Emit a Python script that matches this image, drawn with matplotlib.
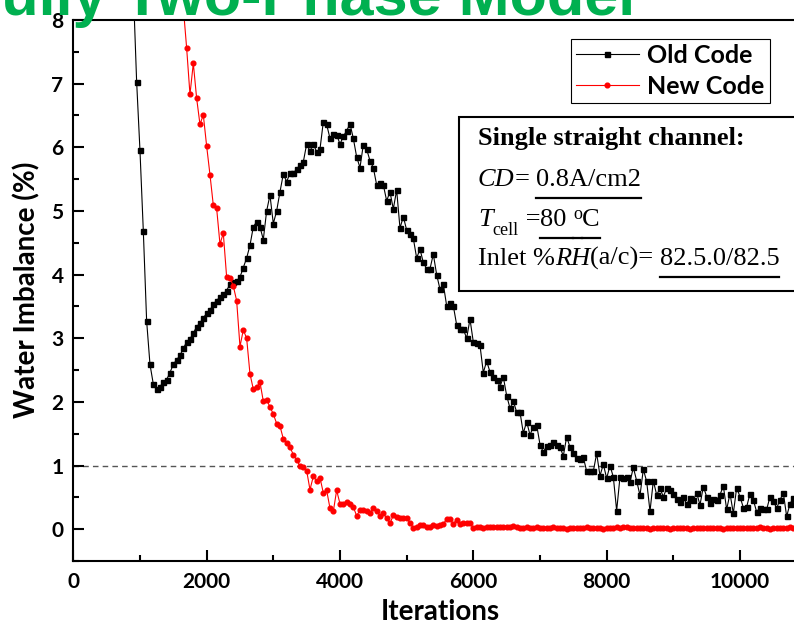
import matplotlib
matplotlib.use("Agg")
import matplotlib.pyplot as plt
from matplotlib.patches import Rectangle
from matplotlib.lines import Line2D
from matplotlib.font_manager import FontProperties
from matplotlib.ticker import MultipleLocator
import numpy as np

# ---- data ----
iters_old = np.arange(850, 10801, 50)
old_code = [
    10.0, 8.5, 7.03, 5.95, 4.69, 3.27, 2.59, 2.28, 2.20, 2.24,      # 850
    2.31, 2.35, 2.46, 2.59, 2.66, 2.73, 2.84, 2.94, 2.99, 3.08,     # 1350
    3.18, 3.24, 3.32, 3.39, 3.44, 3.54, 3.59, 3.65, 3.69, 3.75,     # 1850
    3.85, 3.88, 3.90, 3.96, 4.11, 4.26, 4.46, 4.75, 4.83, 4.75,     # 2350
    4.55, 5.00, 5.25, 4.80, 5.00, 5.30, 5.58, 5.46, 5.59, 5.59,     # 2850
    5.66, 5.72, 5.77, 6.05, 5.94, 6.05, 5.93, 5.97, 6.40, 6.36,     # 3350
    6.14, 6.21, 6.20, 6.05, 6.17, 6.26, 6.37, 6.14, 5.85, 5.68,     # 3850
    6.04, 5.97, 5.79, 5.68, 5.41, 5.44, 5.41, 5.16, 5.30, 5.03,     # 4350
    5.33, 4.73, 4.91, 4.70, 4.64, 4.57, 4.26, 4.40, 4.19, 4.09,     # 4850
    4.09, 4.32, 4.00, 3.77, 3.85, 3.51, 3.56, 3.51, 3.21, 3.14,     # 5350
    3.14, 3.00, 3.30, 2.94, 2.93, 2.89, 2.46, 2.64, 2.47, 2.39,     # 5850
    2.35, 2.24, 2.39, 2.10, 1.90, 2.01, 1.84, 1.84, 1.51, 1.69,     # 6350
    1.48, 1.61, 1.64, 1.33, 1.21, 1.31, 1.32, 1.37, 1.33, 1.29,     # 6850
    1.15, 1.45, 1.29, 1.20, 1.12, 1.10, 1.13, 0.91, 0.91, 0.91,     # 7350
    1.19, 0.84, 1.02, 0.80, 1.00, 0.82, 0.29, 0.82, 0.80, 0.82,     # 7850
    0.74, 0.97, 0.76, 0.53, 0.94, 0.75, 0.28, 0.76, 0.54, 0.64,     # 8350
    0.51, 0.64, 0.62, 0.56, 0.48, 0.43, 0.51, 0.39, 0.49, 0.46,     # 8850
    0.57, 0.38, 0.67, 0.51, 0.41, 0.48, 0.46, 0.54, 0.68, 0.31,     # 9350
    0.56, 0.25, 0.65, 0.51, 0.34, 0.35, 0.56, 0.46, 0.27, 0.34,     # 9850
    0.32, 0.31, 0.51, 0.44, 0.33, 0.46, 0.57, 0.20, 0.40, 0.49,     # 10350
]

iters_new = np.arange(1600, 10801, 50)
new_code = [
    9.0, 8.2, 7.56, 6.83, 7.32, 6.77, 6.36, 6.51, 6.02, 5.57,       # 1600
    5.09, 5.04, 4.48, 4.65, 3.96, 3.95, 3.82, 3.59, 2.87, 3.13,     # 2100
    3.00, 2.44, 2.20, 2.23, 2.31, 2.01, 2.03, 1.92, 1.81, 1.66,     # 2600
    1.62, 1.42, 1.35, 1.29, 1.17, 1.09, 0.99, 0.97, 0.92, 0.62,     # 3100
    0.83, 0.76, 0.81, 0.57, 0.61, 0.33, 0.28, 0.61, 0.40, 0.39,     # 3600
    0.43, 0.39, 0.35, 0.21, 0.30, 0.30, 0.28, 0.25, 0.33, 0.29,     # 4100
    0.21, 0.25, 0.17, 0.09, 0.22, 0.19, 0.18, 0.18, 0.17, 0.10,     # 4600
    0.02, 0.03, 0.06, 0.07, 0.03, 0.04, 0.06, 0.05, 0.07, 0.08,     # 5100
    0.16, 0.16, 0.08, 0.15, 0.08, 0.09, 0.10, 0.09, 0.02, 0.03,     # 5600
    0.03, 0.02, 0.03, 0.04, 0.03, 0.03, 0.04, 0.03, 0.04, 0.03,     # 6100
    0.05, 0.03, 0.02, 0.02, 0.03, 0.02, 0.02, 0.03, 0.02, 0.02,     # 6600
    0.02, 0.02, 0.03, 0.02, 0.02, 0.02, 0.01, 0.02, 0.02, 0.02,     # 7100
    0.02, 0.02, 0.03, 0.02, 0.02, 0.02, 0.02, 0.01, 0.02, 0.02,     # 7600
    0.02, 0.03, 0.02, 0.04, 0.03, 0.02, 0.02, 0.02, 0.02, 0.02,     # 8100
    0.02, 0.01, 0.02, 0.02, 0.02, 0.02, 0.02, 0.01, 0.02, 0.02,     # 8600
    0.02, 0.02, 0.02, 0.01, 0.02, 0.02, 0.02, 0.02, 0.02, 0.02,     # 9100
    0.02, 0.02, 0.02, 0.01, 0.02, 0.02, 0.02, 0.02, 0.02, 0.02,     # 9600
    0.02, 0.02, 0.02, 0.02, 0.03, 0.02, 0.02, 0.01, 0.02, 0.02,     # 10100
    0.02, 0.02, 0.02, 0.03, 0.02,                                   # 10600
]

series_labels = ["Old Code", "New Code"]
x_ticks = [0, 2000, 4000, 6000, 8000, 10000]
y_ticks = [0, 1, 2, 3, 4, 5, 6, 7, 8]
target_line = 1.0

plt.rcParams['font.family'] = ['Lato', 'DejaVu Sans']
plt.rcParams['font.weight'] = 'bold'

W, H = 794, 624
fig = plt.figure(figsize=(W / 100, H / 100), dpi=100)


def fx(px):
    return px / W


def fy(py):
    return 1 - py / H


ax = fig.add_axes([fx(73.3), fy(561), (800 - 73.3) / W, (561 - 20) / H])

ax.plot(iters_old, old_code, color='black', lw=0.8, marker='s', ms=3.6,
        label=series_labels[0])
ax.plot(iters_new, new_code, color='red', lw=0.8, marker='o', ms=3.4,
        mec='red', label=series_labels[1])
ax.axhline(target_line, color='#555555', lw=1.0, ls=(0, (4, 3)), zorder=1)

ax.set_xlim(0, 10900)
ax.set_ylim(-0.5, 8)
ax.set_xticks(x_ticks)
ax.set_yticks(y_ticks)
ax.xaxis.set_minor_locator(MultipleLocator(1000))
ax.yaxis.set_minor_locator(MultipleLocator(0.5))
ax.tick_params(which='major', direction='in', length=8, width=1.5,
               labelsize=15, pad=8)
ax.tick_params(which='minor', direction='in', length=4, width=1.5)
ax.tick_params(axis='y', pad=7)
for s in ['left', 'bottom', 'top']:
    ax.spines[s].set_linewidth(1.5)
ax.spines['right'].set_visible(False)

leg = ax.legend(loc='upper left', bbox_to_anchor=(fx(571), fy(39)),
                bbox_transform=fig.transFigure, frameon=True, fancybox=False,
                edgecolor='black', framealpha=1, borderpad=0.2,
                labelspacing=0.32, handlelength=2.5, handletextpad=0.35,
                borderaxespad=0,
                prop=FontProperties(family='Lato', weight='bold', size=18))
leg.get_frame().set_linewidth(0.8)

fig.text(fx(440), fy(620), 'Iterations', ha='center', va='baseline',
         fontsize=20, fontweight='bold')
fig.text(fx(27), fy(290), 'Water Imbalance (%)', rotation=90, ha='center',
         va='center', fontsize=20, fontweight='bold')

# green heading cut off at the top
fig.text(fx(-36), fy(15), 'Fully Two-Phase Model', ha='left', va='baseline',
         family='Liberation Sans', fontweight='bold', fontsize=44,
         color='#00B050', zorder=10)

# condition box
fig.add_artist(Rectangle((fx(459), fy(290.7)), (900 - 459) / W, (290.7 - 117) / H,
                         transform=fig.transFigure, facecolor='white',
                         edgecolor='black', lw=1.5, zorder=5))

renderer = fig.canvas.get_renderer()
serif = 'Liberation Serif'
rm = FontProperties(family=serif, weight='normal', size=19)
it = FontProperties(family=serif, style='italic', weight='normal', size=19)
bf = FontProperties(family=serif, weight='bold', size=19)
small = FontProperties(family=serif, weight='normal', size=13)


def text_width(s, prop):
    w1 = renderer.get_text_width_height_descent('|' + s + '|', prop, ismath=False)[0]
    w0 = renderer.get_text_width_height_descent('||', prop, ismath=False)[0]
    return w1 - w0


def put_line(x, base, parts):
    for s, prop, dy, ul in parts:
        fig.text(fx(x), fy(base + dy), s, fontproperties=prop, va='baseline',
                 ha='left', color='black', zorder=6)
        w = text_width(s, prop)
        if ul:
            fig.add_artist(Line2D([fx(x), fx(x + w)], [fy(base + 11.5)] * 2,
                                  transform=fig.transFigure, color='black',
                                  lw=1.6, zorder=6))
        x += w


put_line(478, 145, [("Single straight channel:", bf, 0, False)])
put_line(478, 186, [("CD", it, 0, False), ("= ", rm, 0, False),
                    ("0.8A/cm2", rm, 0, True)])
put_line(478, 226, [("T", it, 0, False), ("cell", small, 9, False),
                    (" =", rm, 0, False), ("80 ", rm, 0, True),
                    ("o", small, -7, True), ("C", rm, 0, True)])
put_line(478, 265, [("Inlet %", rm, 0, False), ("RH", it, 0, False),
                    ("(a/c)= ", rm, 0, False), ("82.5.0/82.5", rm, 0, True)])

fig.savefig('out.png', dpi=100)
